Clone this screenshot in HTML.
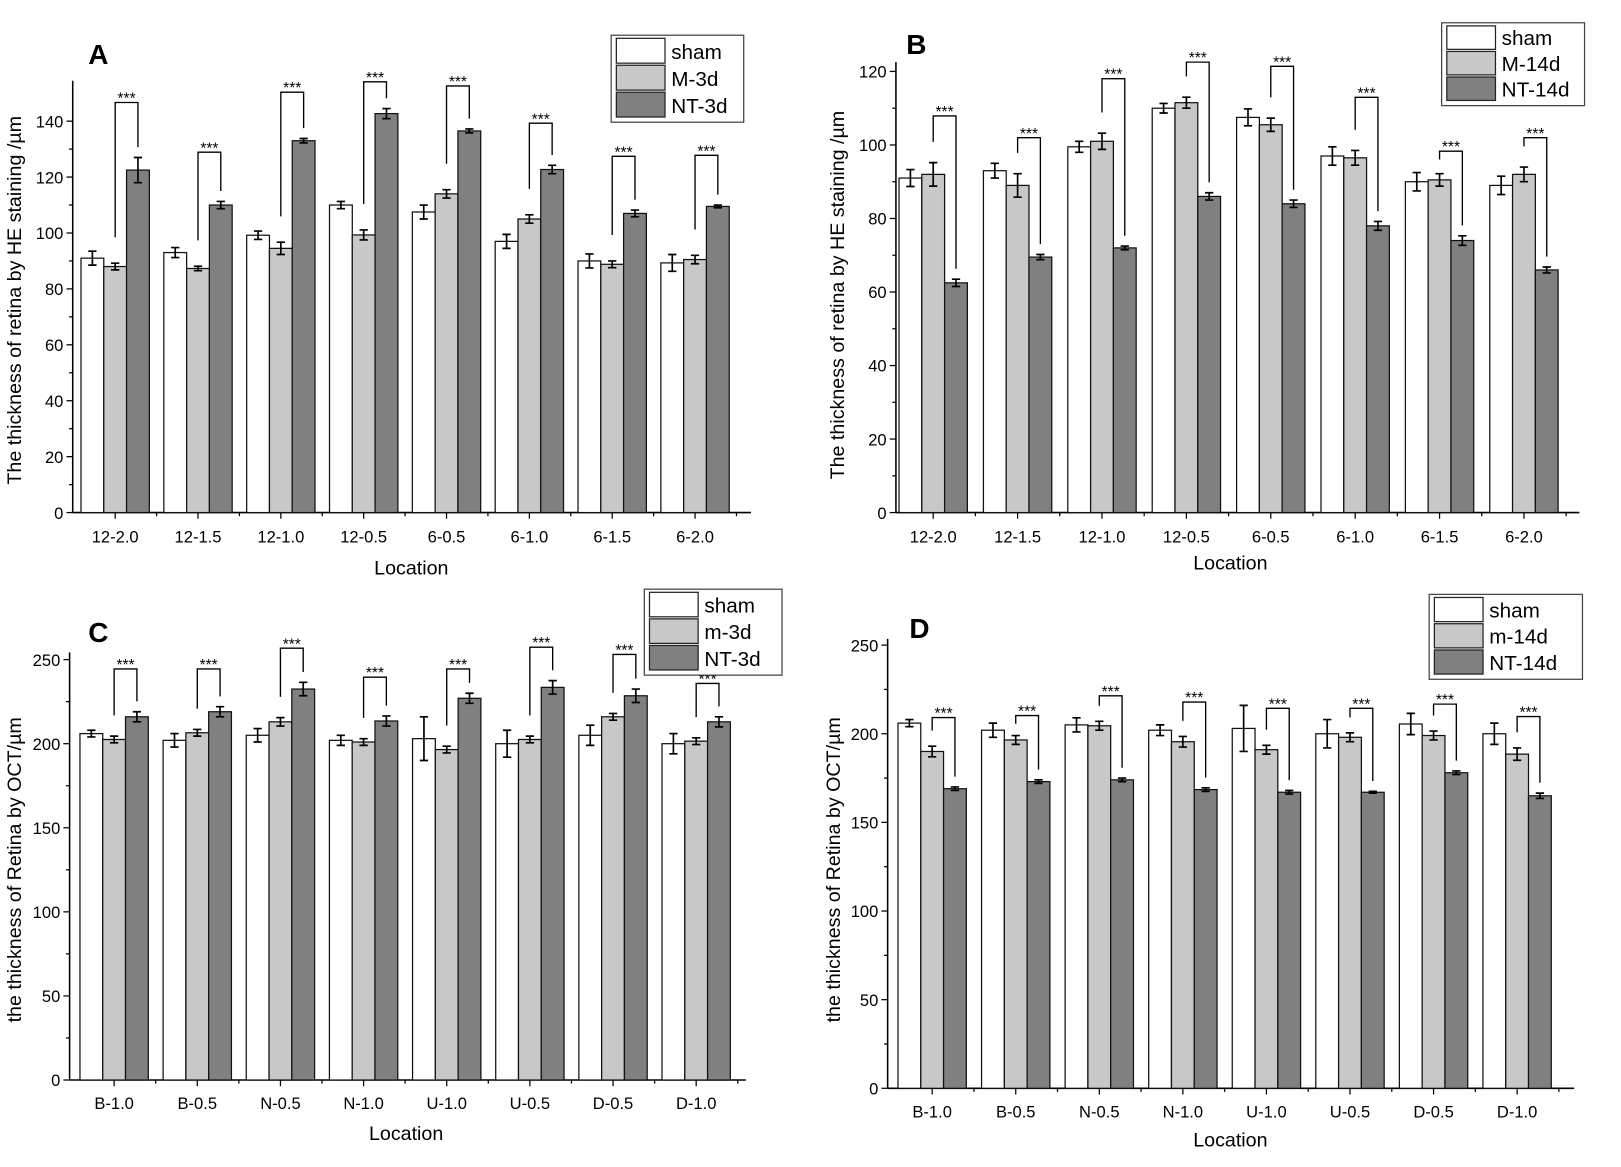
<!DOCTYPE html>
<html><head><meta charset="utf-8"><style>
html,body{margin:0;padding:0;background:#fff;}
svg{display:block;font-family:"Liberation Sans",Arial,sans-serif;}
</style></head><body>
<svg id="s" width="1621" height="1167" viewBox="0 0 1565 1127" xmlns="http://www.w3.org/2000/svg"></svg>
<script>
const S=document.getElementById('s');let h='';
const P=[
{ax:70,x1:725,y0:495,top:78,k:2.7,step:20,max:140,minor:10,c0:111,sp:80,
 sham:[91,93,99.2,110,107.5,97,90,89.3],se:[2.5,1.8,1.5,1.3,2.5,2.5,2.5,3],
 m:[88,87.3,94.5,99.3,114,105,88.8,90.5],me:[1.2,0.8,2.2,1.8,1.5,1.5,1.2,1.5],
 nt:[122.5,110,133,142.7,136.5,122.7,107,109.5],ne:[4.5,1.3,0.8,1.8,0.7,1.5,1.2,0.5],
 bt:[99,147,89,79,83,119,151,150],lg:25,
 labels:['12-2.0','12-1.5','12-1.0','12-0.5','6-0.5','6-1.0','6-1.5','6-2.0'],
 leg:[590,34,128,84,'sham','M-3d','NT-3d'],L:['A',85,62],yl:['The thickness of retina by HE staining /µm',20,290],
 tly:524,locx:397,locy:555},
{ax:865,x1:1525,y0:495,top:60,k:3.55,step:20,max:120,minor:10,c0:901,sp:81.5,
 sham:[91,93,99.5,110,107.5,97,90,89],se:[2.3,2,1.5,1.3,2.3,2.5,2.5,2.5],
 m:[92,89,101,111.5,105.5,96.5,90.5,92],me:[3.2,3.2,2.2,1.5,1.8,2,1.7,2],
 nt:[62.5,69.5,72,86,84,78,74,66],ne:[1,0.7,0.5,1,1,1.2,1.3,0.8],
 bt:[112,133,76,60,64,94,146,133],lg:20,
 labels:['12-2.0','12-1.5','12-1.0','12-0.5','6-0.5','6-1.0','6-1.5','6-2.0'],
 leg:[1392,22,138,80,'sham','M-14d','NT-14d'],L:['B',875,52],yl:['The thickness of retina by HE staining /µm',815,285],
 tly:524,locx:1188,locy:550},
{ax:67,x1:720,y0:1043,top:630,k:1.624,step:50,max:250,minor:25,c0:110,sp:80.3,
 sham:[206,202,205,202,203,200,205,200],se:[2,4,4,3,13,8,6,6],
 m:[202.5,206.5,213,201,196.5,202.5,216,201.5],me:[2,2,2.5,2,2,2,2,2],
 nt:[216,219,232.5,213.5,227,233.5,228.5,213],ne:[3,3,4,3,3,4,4,3],
 bt:[646,646,626,654,646,625,632,660],lg:20,
 labels:['B-1.0','B-0.5','N-0.5','N-1.0','U-1.0','U-0.5','D-0.5','D-1.0'],
 leg:[622,569,133,83,'sham','m-3d','NT-3d'],L:['C',85,620],yl:['the thickness of Retina by OCT/µm',20,840],
 tly:1071,locx:392,locy:1101},
{ax:857,x1:1520,y0:1051,top:617,k:1.712,step:50,max:250,minor:25,c0:900,sp:80.7,
 sham:[206,202,205,202,203,200,205.5,200],se:[2,4,4,3,13,8,6,6],
 m:[190,196.5,204.5,195.5,191,198,199,188.5],me:[3,2.5,2.5,3,2.5,2.5,2.5,3.5],
 nt:[169,173,174,168.5,167,167,178,165],ne:[1,1,1,1,1,0.5,1,1.5],
 bt:[693,691,672,678,684,684,680,692],lg:15,
 labels:['B-1.0','B-0.5','N-0.5','N-1.0','U-1.0','U-0.5','D-0.5','D-1.0'],
 leg:[1380,574,148,82,'sham','m-14d','NT-14d'],L:['D',878,616],yl:['the thickness of Retina by OCT/µm',811,840],
 tly:1079,locx:1188,locy:1107}
];
const W=22;
P.forEach(p=>{
 const Y=v=>p.y0-v*p.k;
 // axes
 h+=`<line x1="${p.ax}" y1="${p.top}" x2="${p.ax}" y2="${p.y0}" stroke="#000" stroke-width="1.5"/>`;
 h+=`<line x1="${p.ax}" y1="${p.y0}" x2="${p.x1}" y2="${p.y0}" stroke="#000" stroke-width="1.5"/>`;
 for(let v=0;v<=p.max+p.minor*0.6;v+=p.minor){const y=Y(v);const maj=(v%p.step===0)&&v<=p.max;
  if(y<p.top-1)break;
  h+=`<line x1="${p.ax-(maj?6:3.5)}" y1="${y}" x2="${p.ax}" y2="${y}" stroke="#000" stroke-width="1.2"/>`;
  if(maj)h+=`<text x="${p.ax-9}" y="${y+6}" font-size="16" text-anchor="end">${v}</text>`;}
 for(let i=0;i<8;i++){const c=p.c0+i*p.sp;
  h+=`<line x1="${c}" y1="${p.y0}" x2="${c}" y2="${p.y0+6}" stroke="#000" stroke-width="1.2"/>`;
  h+=`<line x1="${c+p.sp/2}" y1="${p.y0}" x2="${c+p.sp/2}" y2="${p.y0+3.5}" stroke="#000" stroke-width="1.2"/>`;
  h+=`<text x="${c}" y="${p.tly}" font-size="16" text-anchor="middle">${p.labels[i]}</text>`;
  const sers=[[p.sham,p.se,'#fff',-W],[p.m,p.me,'#c8c8c8',0],[p.nt,p.ne,'#808080',W]];
  sers.forEach(s=>{const v=s[0][i],e=s[1][i],cx=c+s[3];
   h+=`<rect x="${cx-W/2}" y="${Y(v)}" width="${W}" height="${v*p.k}" fill="${s[2]}" stroke="#111" stroke-width="1.2"/>`;
   h+=`<path d="M${cx} ${Y(v+e)}V${Y(v-e)}M${cx-4} ${Y(v+e)}H${cx+4}M${cx-4} ${Y(v-e)}H${cx+4}" stroke="#000" stroke-width="1.6" fill="none"/>`;});
  const lb=Y(p.m[i]+p.me[i])-p.lg, rb=Y(p.nt[i]+p.ne[i])-10, bt=p.bt[i];
  h+=`<path d="M${c} ${Math.max(lb,bt+8)}V${bt}H${c+W}V${Math.max(rb,bt+8)}" stroke="#000" stroke-width="1.3" fill="none"/>`;
  h+=`<text x="${c+W/2}" y="${bt+1}" font-size="15" text-anchor="middle">***</text>`;
 }
 const [lx,ly,lw,lh,a,b,c]=p.leg;
 h+=`<rect x="${lx}" y="${ly}" width="${lw}" height="${lh}" fill="#fff" stroke="#444" stroke-width="1.2"/>`;
 const rh=(lh-6)/3;
 [[a,'#fff'],[b,'#c8c8c8'],[c,'#808080']].forEach((r,j)=>{const yy=ly+3+j*rh;
  h+=`<rect x="${lx+5}" y="${yy}" width="47" height="${rh-2}" fill="${r[1]}" stroke="#222" stroke-width="1.2"/>`;
  h+=`<text x="${lx+58}" y="${yy+rh-6}" font-size="20">${r[0]}</text>`;});
 h+=`<text x="${p.L[1]}" y="${p.L[2]}" font-size="27" font-weight="bold">${p.L[0]}</text>`;
 h+=`<text transform="translate(${p.yl[1]},${p.yl[2]}) rotate(-90)" font-size="19" text-anchor="middle">${p.yl[0]}</text>`;
 h+=`<text x="${p.locx}" y="${p.locy}" font-size="19" text-anchor="middle">Location</text>`;
});
S.innerHTML=h;
</script>
</body></html>
